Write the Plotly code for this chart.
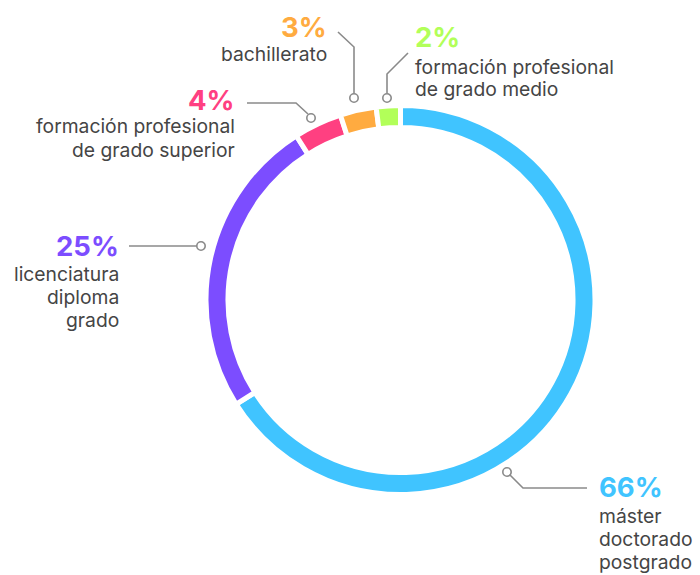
import plotly.graph_objects as go

# ---- data ----
categories = ["máster doctorado postgrado", "licenciatura diploma grado",
              "formación profesional de grado superior", "bachillerato",
              "formación profesional de grado medio"]
values = [66, 25, 4, 3, 2]
pct_labels = ["66%", "25%", "4%", "3%", "2%"]
label_lines = [["máster", "doctorado", "postgrado"],
               ["licenciatura", "diploma", "grado"],
               ["formación profesional", "de grado superior"],
               ["bachillerato"],
               ["formación profesional", "de grado medio"]]
colors = ["#40C4FF", "#7C4DFF", "#FF4081", "#FFAB40", "#B2FF59"]

W, H = 700, 575
FONT = "Inter"
TEXT = "#454545"
LINE = "#8a8a8a"

def px(x):
    return x / W

def py(y):
    return 1 - y / H

# ---- layout / placement (pixels) ----
cx, cy, r = 400.5, 300, 194.5
PAD = 2.5
# per slice: (anchor, text x, pct y, first label y, leader polyline, circle center)
place = [
    ("left", 599, 487, 515.5, [(587, 488), (523, 488), (510, 475)], (507, 472)),
    ("right", 118, 246, 273.5, [(129, 246), (197, 246)], (201, 246)),
    ("right", 234, 100, 126.5, [(247, 103), (296, 103), (308, 114)], (311, 118)),
    ("right", 326, 27, 54.5, [(338, 32), (354, 47), (354, 93.5)], (354, 98)),
    ("left", 415, 37, 66.5, [(408, 53), (387, 74), (387, 93.5)], (387, 98)),
]
LINE_STEP = 23

fig = go.Figure()
fig.add_trace(go.Pie(
    labels=categories, values=values, sort=False, direction="clockwise",
    rotation=0, hole=0.887, textinfo="none", hoverinfo="label+percent",
    marker=dict(colors=colors, line=dict(color="white", width=5)),
    domain=dict(x=[px(cx - r), px(cx + r)], y=[py(cy + r), py(cy - r)]),
    showlegend=False,
))

annotations = []
shapes = []
for i, (anchor, tx, ypct, ylab, poly, circ) in enumerate(place):
    tx = tx + PAD if anchor == "right" else tx - PAD
    annotations.append(dict(
        x=px(tx), y=py(ypct), xref="paper", yref="paper", xanchor=anchor,
        yanchor="middle", showarrow=False, text="<b>%s</b>" % pct_labels[i],
        font=dict(family=FONT, size=27.5, color=colors[i])))
    for j, line in enumerate(label_lines[i]):
        annotations.append(dict(
            x=px(tx), y=py(ylab + j * LINE_STEP), xref="paper", yref="paper",
            xanchor=anchor, yanchor="middle", showarrow=False, text=line,
            font=dict(family=FONT, size=19.3, color=TEXT)))
    path = "M " + " L ".join("%f,%f" % (px(a), py(b)) for a, b in poly)
    shapes.append(dict(type="path", path=path, xref="paper", yref="paper",
                       line=dict(color=LINE, width=1.6)))
    rc = 4.2
    shapes.append(dict(type="circle", xref="paper", yref="paper",
                       x0=px(circ[0] - rc), x1=px(circ[0] + rc),
                       y0=py(circ[1] + rc), y1=py(circ[1] - rc),
                       line=dict(color=LINE, width=1.6), fillcolor="white"))

fig.update_layout(
    width=W, height=H, margin=dict(l=0, r=0, t=0, b=0),
    paper_bgcolor="white", plot_bgcolor="white",
    annotations=annotations, shapes=shapes,
)
fig.write_html("out.html", config={"displayModeBar": False},
               post_script="document.body.style.margin='0';"
                           "document.body.style.overflow='hidden';")
